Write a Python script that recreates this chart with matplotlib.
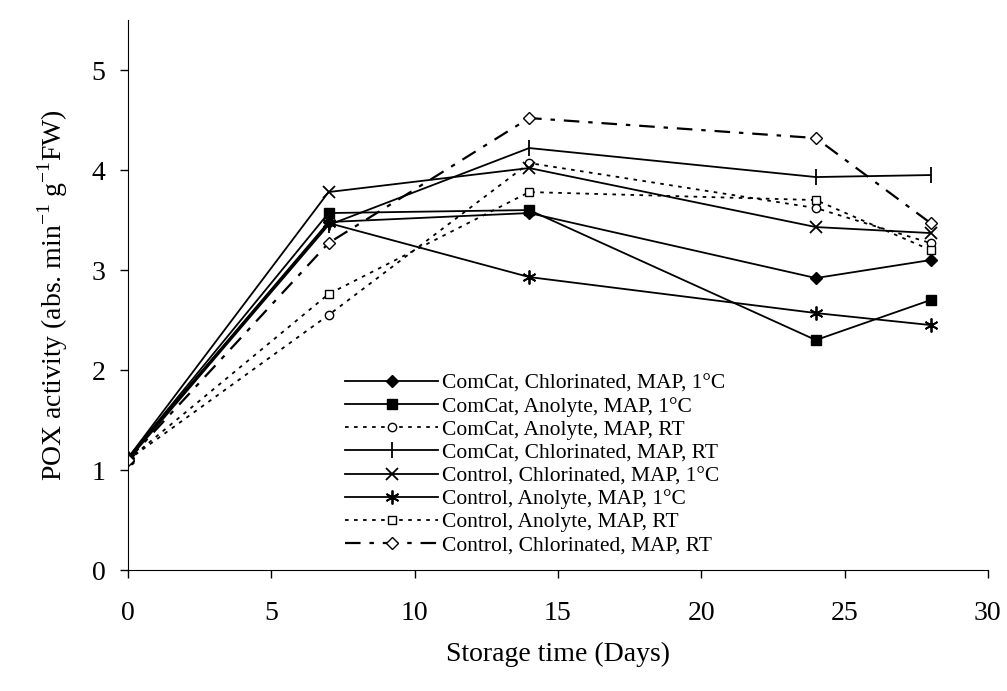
import matplotlib.pyplot as plt
import numpy as np

plt.rcParams['font.family'] = ['Liberation Serif', 'DejaVu Serif']

days = [0, 7, 14, 24, 28]

comcat_chl_1c = [1.12, 3.48, 3.57, 2.92, 3.10]
comcat_ano_1c = [1.12, 3.57, 3.60, 2.30, 2.70]
comcat_ano_rt = [1.10, 2.55, 4.07, 3.62, 3.27]
comcat_chl_rt = [1.10, 3.45, 4.22, 3.93, 3.95]
control_chl_1c = [1.12, 3.78, 4.02, 3.43, 3.37]
control_ano_1c = [1.12, 3.47, 2.93, 2.57, 2.45]
control_ano_rt = [1.10, 2.76, 3.78, 3.70, 3.20]
control_chl_rt = [1.10, 3.27, 4.52, 4.32, 3.47]

labels = ['ComCat, Chlorinated, MAP, 1°C',
          'ComCat, Anolyte, MAP, 1°C',
          'ComCat, Anolyte, MAP, RT',
          'ComCat, Chlorinated, MAP, RT',
          'Control, Chlorinated, MAP, 1°C',
          'Control, Anolyte, MAP, 1°C',
          'Control, Anolyte, MAP, RT',
          'Control, Chlorinated, MAP, RT']

fig = plt.figure(figsize=(10.07, 6.91), dpi=100)
ax = fig.add_axes([0.127, 0.175, 0.854, 0.796])

k = dict(color='black', lw=1.3)
ax.plot(days, comcat_chl_1c, marker='D', ms=6, mfc='black', ls='-', label=labels[0], **k)
ax.plot(days, comcat_ano_1c, marker='s', ms=7, mfc='black', ls='-', label=labels[1], **k)
ax.plot(days, comcat_ano_rt, marker='o', ms=6, mfc='white', ls=(0, (2, 3)), label=labels[2], **k)
ax.plot(days, comcat_chl_rt, marker='|', ms=12, mew=1.3, ls='-', label=labels[3], **k)
ax.plot(days, control_chl_1c, marker='x', ms=9, mew=1.3, ls='-', label=labels[4], **k)
ax.plot(days, control_ano_1c, marker=(6, 2, 0), ms=10, mew=1.3, ls='-', label=labels[5], **k)
ax.plot(days, control_ano_rt, marker='s', ms=6, mfc='white', ls=(0, (2, 3)), label=labels[6], **k)
ax.plot(days, control_chl_rt, marker='D', ms=6, mfc='white', ls=(0, (7, 4, 2, 4)),
        label=labels[7], color='black', lw=1.6)

ax.set_xlim(0, 30)
ax.set_ylim(0, 5.5)
ax.set_xticks(np.arange(0, 31, 5))
ax.set_yticks(np.arange(0, 6, 1))
ax.spines['top'].set_visible(False)
ax.spines['right'].set_visible(False)
ax.tick_params(direction='out', length=6, width=1, labelsize=20)
ax.tick_params(axis='x', pad=16)
ax.tick_params(axis='y', pad=10)

ax.set_xlabel('Storage time (Days)', fontsize=20, labelpad=12)
ax.set_ylabel('POX activity (abs. min$^{\\mathregular{-1}}$ g$^{\\mathregular{-1}}$FW)',
              fontsize=20, labelpad=16)

ax.legend(loc='upper left', bbox_to_anchor=(0.253, 0.357), frameon=False,
          fontsize=15.5, handlelength=4.3, handletextpad=0.2, labelspacing=0.14,
          borderaxespad=0, borderpad=0)

fig.savefig('out.png', dpi=100)
